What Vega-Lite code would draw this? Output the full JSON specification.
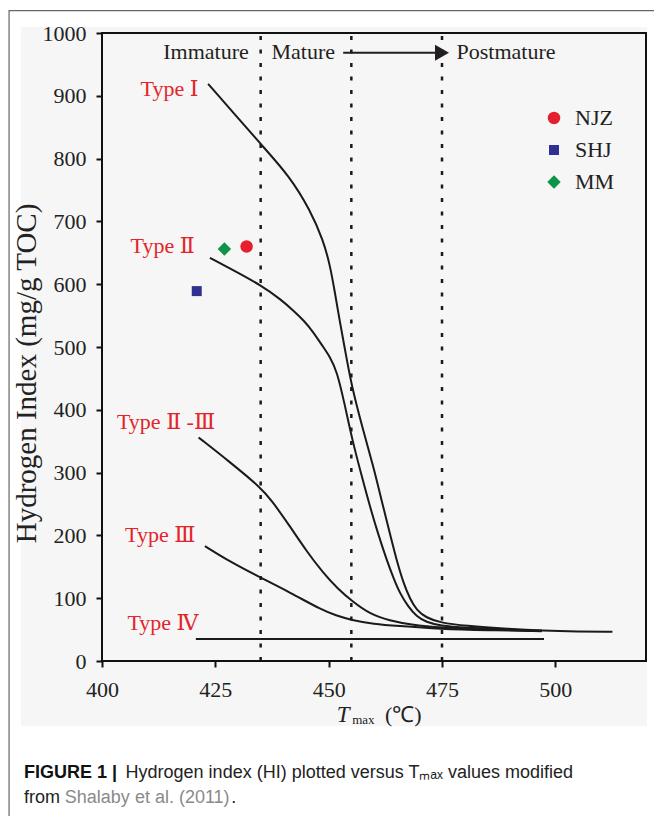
{
  "$schema": "https://vega.github.io/schema/vega-lite/v6.json",
  "width": 544,
  "height": 628,
  "autosize": {"type": "none"},
  "padding": {"left": 102, "top": 33, "right": 8, "bottom": 155},
  "background": "white",
  "config": {"view": {"stroke": null}, "font": "Liberation Serif"},
  "encoding": {
    "x": {
      "field": "x", "type": "quantitative",
      "scale": {"domain": [400, 520], "nice": false, "zero": false},
      "axis": {
        "values": [400, 425, 450, 475, 500], "title": null, "grid": false, "domain": false, "format": "d",
        "labelFont": "Liberation Serif", "labelFontSize": 22, "labelColor": "#222",
        "tickColor": "#111", "tickWidth": 2, "tickSize": 6, "labelPadding": 12,
        "labelFlush": false, "labelOverlap": false, "zindex": 1
      }
    },
    "y": {
      "field": "y", "type": "quantitative",
      "scale": {"domain": [0, 1000], "nice": false, "zero": false},
      "axis": {
        "values": [0, 100, 200, 300, 400, 500, 600, 700, 800, 900, 1000], "format": "d",
        "title": "Hydrogen Index (mg/g TOC)", "grid": false, "domain": false,
        "labelFont": "Liberation Serif", "labelFontSize": 22, "labelColor": "#222",
        "tickColor": "#111", "tickWidth": 2, "tickSize": 6, "labelPadding": 10,
        "labelFlush": false, "labelOverlap": false,
        "titleFont": "Liberation Serif", "titleFontSize": 29, "titleFontWeight": "normal",
        "titleColor": "#222", "titlePadding": 1, "titleY": 340, "zindex": 1
      }
    }
  },
  "layer": [
    {
      "data": {"values": [{"x": 382.1, "x2": 520.2, "y": 1009.6, "y2": -103.5}]},
      "mark": {"type": "rect", "fill": "#f6f6f6", "strokeWidth": 0},
      "encoding": {"x2": {"field": "x2"}, "y2": {"field": "y2"}}
    },
    {
      "data": {"values": [{"x": 379.5, "x2": 526, "y": 1035.5, "y2": -290}]},
      "mark": {"type": "rect", "fillOpacity": 0, "stroke": "#666", "strokeWidth": 1.2},
      "encoding": {"x2": {"field": "x2"}, "y2": {"field": "y2"}}
    },
    {
      "data": {"values": [{"x": 435, "y": 0, "y2": 1000}, {"x": 455, "y": 0, "y2": 1000}, {"x": 475, "y": 0, "y2": 1000}]},
      "mark": {"type": "rule", "color": "#1a1a1a", "strokeWidth": 2.5, "strokeDash": [4, 9.5]},
      "encoding": {"y2": {"field": "y2"}}
    },
    {
      "data": {"values": [
        {"type": "I", "x": 423.4, "y": 919}, {"type": "I", "x": 429, "y": 873}, {"type": "I", "x": 434.9, "y": 824},
        {"type": "I", "x": 441.5, "y": 771}, {"type": "I", "x": 445.9, "y": 718}, {"type": "I", "x": 448.8, "y": 670},
        {"type": "I", "x": 450.3, "y": 630}, {"type": "I", "x": 451.3, "y": 590}, {"type": "I", "x": 452.4, "y": 543},
        {"type": "I", "x": 453.8, "y": 488}, {"type": "I", "x": 455.1, "y": 437}, {"type": "I", "x": 457.5, "y": 370},
        {"type": "I", "x": 459.9, "y": 309}, {"type": "I", "x": 461.7, "y": 255}, {"type": "I", "x": 463.5, "y": 203},
        {"type": "I", "x": 465, "y": 160}, {"type": "I", "x": 466.5, "y": 124}, {"type": "I", "x": 468, "y": 98},
        {"type": "I", "x": 469.4, "y": 81}, {"type": "I", "x": 471.5, "y": 69}, {"type": "I", "x": 474.6, "y": 61},
        {"type": "I", "x": 480, "y": 56}, {"type": "I", "x": 490, "y": 51}, {"type": "I", "x": 497, "y": 48.5},
        {"type": "I", "x": 505, "y": 47}, {"type": "I", "x": 512.6, "y": 46.5},
        {"type": "II", "x": 423.8, "y": 642}, {"type": "II", "x": 429, "y": 622}, {"type": "II", "x": 434.9, "y": 599},
        {"type": "II", "x": 439.6, "y": 575}, {"type": "II", "x": 442.5, "y": 556}, {"type": "II", "x": 444.4, "y": 543},
        {"type": "II", "x": 446.5, "y": 525}, {"type": "II", "x": 448.8, "y": 500}, {"type": "II", "x": 450.3, "y": 484},
        {"type": "II", "x": 451.8, "y": 462}, {"type": "II", "x": 453.5, "y": 410}, {"type": "II", "x": 455.2, "y": 352},
        {"type": "II", "x": 457.2, "y": 297}, {"type": "II", "x": 459.1, "y": 246}, {"type": "II", "x": 461, "y": 200},
        {"type": "II", "x": 462.8, "y": 161}, {"type": "II", "x": 464.3, "y": 132}, {"type": "II", "x": 465.7, "y": 108},
        {"type": "II", "x": 467.5, "y": 87}, {"type": "II", "x": 469.4, "y": 71}, {"type": "II", "x": 471.5, "y": 62},
        {"type": "II", "x": 474.6, "y": 56}, {"type": "II", "x": 480, "y": 53}, {"type": "II", "x": 490, "y": 50},
        {"type": "II", "x": 497, "y": 48},
        {"type": "II-III", "x": 421.3, "y": 356}, {"type": "II-III", "x": 428, "y": 318}, {"type": "II-III", "x": 434.9, "y": 277},
        {"type": "II-III", "x": 437.4, "y": 256}, {"type": "II-III", "x": 441.5, "y": 214}, {"type": "II-III", "x": 445, "y": 176},
        {"type": "II-III", "x": 448.8, "y": 140}, {"type": "II-III", "x": 452, "y": 115}, {"type": "II-III", "x": 455.2, "y": 95},
        {"type": "II-III", "x": 459, "y": 75}, {"type": "II-III", "x": 463.5, "y": 64}, {"type": "II-III", "x": 468, "y": 58},
        {"type": "II-III", "x": 474.6, "y": 53}, {"type": "II-III", "x": 485, "y": 50}, {"type": "II-III", "x": 497, "y": 48},
        {"type": "III", "x": 422.7, "y": 183}, {"type": "III", "x": 428.5, "y": 157}, {"type": "III", "x": 434.9, "y": 133},
        {"type": "III", "x": 441.5, "y": 109}, {"type": "III", "x": 448.8, "y": 80}, {"type": "III", "x": 451.5, "y": 73},
        {"type": "III", "x": 455, "y": 65}, {"type": "III", "x": 460, "y": 59}, {"type": "III", "x": 465, "y": 56},
        {"type": "III", "x": 474.6, "y": 51}, {"type": "III", "x": 485, "y": 49}, {"type": "III", "x": 497, "y": 47.5},
        {"type": "IV", "x": 420.7, "y": 35}, {"type": "IV", "x": 497.5, "y": 35}
      ]},
      "mark": {"type": "line", "color": "#1a1a1a", "strokeWidth": 2, "interpolate": "basis"},
      "encoding": {"detail": {"field": "type"}}
    },
    {
      "data": {"values": [{"x": 400, "x2": 520, "y": 0, "y2": 1000}]},
      "mark": {"type": "rect", "fillOpacity": 0, "stroke": "#111", "strokeWidth": 2},
      "encoding": {"x2": {"field": "x2"}, "y2": {"field": "y2"}}
    },
    {
      "data": {"values": [{"x": 453.2, "x2": 474, "y": 968.6}]},
      "mark": {"type": "rule", "color": "#231f20", "strokeWidth": 2},
      "encoding": {"x2": {"field": "x2"}}
    },
    {
      "data": {"values": [{"x": 475, "y": 968.6}]},
      "mark": {"type": "point", "shape": "triangle-right", "filled": true, "size": 260, "color": "#231f20", "opacity": 1},
      "encoding": {}
    },
    {
      "data": {"values": [
        {"x": 413.5, "y": 959, "label": "Immature"},
        {"x": 437.4, "y": 959, "label": "Mature"},
        {"x": 478.2, "y": 959, "label": "Postmature"}
      ]},
      "mark": {"type": "text", "align": "left", "baseline": "alphabetic", "font": "Liberation Serif", "fontSize": 22, "color": "#231f20"},
      "encoding": {"text": {"field": "label"}}
    },
    {
      "data": {"values": [
        {"x": 408.5, "y": 899, "label": "Type Ⅰ"},
        {"x": 406.3, "y": 650, "label": "Type Ⅱ"},
        {"x": 403.3, "y": 369, "label": "Type Ⅱ -Ⅲ"},
        {"x": 405.1, "y": 190, "label": "Type  Ⅲ"},
        {"x": 405.6, "y": 49, "label": "Type Ⅳ"}
      ]},
      "mark": {"type": "text", "align": "left", "baseline": "alphabetic", "font": "Liberation Serif, DejaVu Serif, serif", "fontSize": 22, "color": "#e3242b"},
      "encoding": {"text": {"field": "label"}}
    },
    {
      "data": {"values": [
        {"site": "NJZ", "x": 431.9, "y": 660},
        {"site": "SHJ", "x": 420.9, "y": 589},
        {"site": "MM", "x": 427, "y": 656}
      ]},
      "mark": {"type": "point", "filled": true, "opacity": 1},
      "encoding": {
        "color": {
          "field": "site", "type": "nominal",
          "scale": {"domain": ["NJZ", "SHJ", "MM"], "range": ["#e5202e", "#2e3192", "#0e9446"]},
          "legend": {"orient": "none", "legendX": 441, "legendY": 74, "title": null, "labelFont": "Liberation Serif", "labelFontSize": 22, "labelColor": "#222", "rowPadding": 10, "labelOffset": 10, "padding": 0, "symbolStrokeWidth": 0}
        },
        "shape": {
          "field": "site", "type": "nominal",
          "scale": {"domain": ["NJZ", "SHJ", "MM"], "range": ["circle", "square", "diamond"]},
          "legend": {"orient": "none", "legendX": 441, "legendY": 74, "title": null, "labelFont": "Liberation Serif", "labelFontSize": 22, "labelColor": "#222", "rowPadding": 10, "labelOffset": 10, "padding": 0, "symbolStrokeWidth": 0}
        },
        "size": {
          "field": "site", "type": "nominal",
          "scale": {"type": "ordinal", "domain": ["NJZ", "SHJ", "MM"], "range": [156, 100, 180]},
          "legend": {"orient": "none", "legendX": 441, "legendY": 74, "title": null, "labelFont": "Liberation Serif", "labelFontSize": 22, "labelColor": "#222", "rowPadding": 10, "labelOffset": 10, "padding": 0, "symbolStrokeWidth": 0}
        }
      }
    },
    {
      "data": {"values": [{"x": 451.8, "y": -96.7, "label": "T"}]},
      "mark": {"type": "text", "align": "left", "baseline": "alphabetic", "font": "Liberation Serif", "fontSize": 23, "fontStyle": "italic", "color": "#222"},
      "encoding": {"text": {"field": "label"}}
    },
    {
      "data": {"values": [{"x": 455.2, "y": -100.3, "label": "max"}]},
      "mark": {"type": "text", "align": "left", "baseline": "alphabetic", "font": "Liberation Serif", "fontSize": 13, "color": "#222"},
      "encoding": {"text": {"field": "label"}}
    },
    {
      "data": {"values": [{"x": 462.4, "y": -96.7, "label": "(℃)"}]},
      "mark": {"type": "text", "align": "left", "baseline": "alphabetic", "font": "Liberation Serif", "fontSize": 22, "color": "#222"},
      "encoding": {"text": {"field": "label"}}
    },
    {
      "data": {"values": [{"x": 382.8, "y": -186.3, "label": "FIGURE 1 |"}]},
      "mark": {"type": "text", "align": "left", "baseline": "alphabetic", "font": "Liberation Sans", "fontSize": 18, "fontWeight": "bold", "color": "#111"},
      "encoding": {"text": {"field": "label"}}
    },
    {
      "data": {"values": [
        {"x": 405.2, "y": -186.3, "label": "Hydrogen index (HI) plotted versus Tₘₐₓ values modified"},
        {"x": 382.8, "y": -226.1, "label": "from"},
        {"x": 428.5, "y": -226.1, "label": "."}
      ]},
      "mark": {"type": "text", "align": "left", "baseline": "alphabetic", "font": "Liberation Sans", "fontSize": 18, "color": "#222"},
      "encoding": {"text": {"field": "label"}}
    },
    {
      "data": {"values": [{"x": 391.8, "y": -226.1, "label": "Shalaby et al. (2011)"}]},
      "mark": {"type": "text", "align": "left", "baseline": "alphabetic", "font": "Liberation Sans", "fontSize": 18, "color": "#8a8a8a"},
      "encoding": {"text": {"field": "label"}}
    }
  ]
}
